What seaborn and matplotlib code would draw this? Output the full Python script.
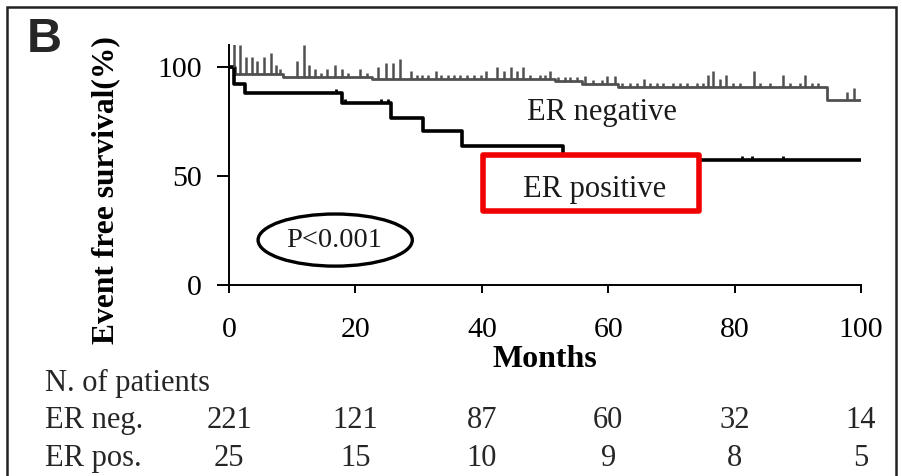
import numpy as np
import pandas as pd
import seaborn as sns
import matplotlib.pyplot as plt
import matplotlib.transforms as mtransforms
from matplotlib.patches import Ellipse, Rectangle

# Kaplan-Meier step values (months, event free survival %)
neg_times = [0, 1.0, 8.6, 22.6, 51.5, 55.8, 61.5, 94.6, 100]
neg_surv = [100, 97.0, 95.3, 94.3, 93.6, 92.3, 90.7, 85.0, 85.0]
pos_times = [0, 0.8, 2.5, 17.8, 25.7, 30.7, 36.8, 52.9, 100]
pos_surv = [100, 92.0, 88.0, 83.5, 76.5, 70.6, 63.8, 57.3, 57.3]

# Censored observations: time and number censored at that time
neg_cens_t = [0.8, 1.7, 2.7, 3.6, 4.5, 5.6, 6.6, 7.5, 8.1, 10.8, 11.8, 12.7, 13.6,
              14.5, 15.5, 16.7, 17.8, 18.8, 20.7, 21.8, 23.6, 24.8, 26.0, 27.0,
              28.8, 29.7, 30.6, 31.5, 32.7, 33.6, 34.7, 35.6, 36.6, 37.7, 38.7,
              39.8, 40.7, 42.4, 43.5, 44.6, 45.5, 46.5, 47.6, 49.2, 50.0, 50.8,
              52.1, 53.2, 54.0, 55.0, 56.3, 57.6, 59.0, 59.8, 61.1, 62.1, 63.4,
              64.5, 65.6, 66.6, 67.7, 68.7, 70.3, 71.4, 72.4, 74.0, 75.0, 75.8,
              76.6, 77.7, 78.7, 79.8, 80.9, 83.0, 84.0, 85.6, 87.7, 88.8, 90.3,
              91.1, 92.2, 93.2, 97.7, 98.8]
neg_cens_n = [8, 7, 4, 4, 3, 4, 5, 2, 1, 4, 8, 3, 2,
              1, 2, 3, 2, 1, 2, 1, 3, 4, 4, 5,
              2, 1, 1, 1, 2, 1, 1, 1, 1, 1, 1,
              1, 2, 3, 2, 3, 2, 3, 1, 1, 1, 2,
              1, 1, 1, 1, 2, 1, 1, 2, 2, 1, 1,
              1, 2, 1, 1, 1, 1, 1, 1, 1, 1, 3,
              4, 2, 3, 1, 1, 4, 1, 1, 3, 1, 1,
              3, 1, 1, 2, 3]
pos_cens_t = [17.0, 18.4, 24.1, 25.1, 81.1, 82.7, 87.7]
pos_cens_n = [1, 1, 1, 1, 1, 1, 1]

# Numbers at risk
risk_months = [0, 20, 40, 60, 80, 100]
risk_neg = [221, 121, 87, 60, 32, 14]
risk_pos = [25, 15, 10, 9, 8, 5]

GRAY = "#505050"

sns.set_theme(style="white")
plt.rcParams["font.family"] = ["Liberation Serif", "DejaVu Serif"]

fig = plt.figure(figsize=(9.03, 4.76), dpi=100)
ax = fig.add_axes([0.2536, 0.4013, 0.700, 0.5038])

df = pd.concat([
    pd.DataFrame({"month": neg_times, "surv": neg_surv, "group": "ER negative"}),
    pd.DataFrame({"month": pos_times, "surv": pos_surv, "group": "ER positive"}),
])

sns.lineplot(data=df[df.group == "ER negative"], x="month", y="surv",
             drawstyle="steps-post", estimator=None, sort=False,
             color=GRAY, lw=2.0, ax=ax, zorder=3)
sns.lineplot(data=df[df.group == "ER positive"], x="month", y="surv",
             drawstyle="steps-post", estimator=None, sort=False,
             color="black", lw=2.6, ax=ax, zorder=3)


def step_value(times, surv, t):
    idx = np.searchsorted(times, t, side="right") - 1
    return np.asarray(surv)[idx]


unit = 1.85  # height of one censor mark, in % units
for times, surv, ct, cn, col, lw in [
    (neg_times, neg_surv, neg_cens_t, neg_cens_n, GRAY, 1.8),
    (pos_times, pos_surv, pos_cens_t, pos_cens_n, "black", 2.0),
]:
    ct = np.asarray(ct)
    base = step_value(times, surv, ct)
    ax.vlines(ct, base, base + np.asarray(cn) * unit, color=col, lw=lw, zorder=3)

ax.set_xlim(0, 100)
ax.set_ylim(0, 110)
ax.set_xticks(risk_months)
ax.set_yticks([0, 50, 100])
for s in ["top", "right"]:
    ax.spines[s].set_visible(False)
for s in ["left", "bottom"]:
    ax.spines[s].set_color("black")
    ax.spines[s].set_linewidth(1.4)
ax.tick_params(axis="y", direction="out", length=8.5, width=1.4, pad=11,
               labelsize=21.5, colors="black", left=True)
ax.tick_params(axis="x", direction="out", length=6, width=1.4, pad=17,
               labelsize=21.5, colors="black", bottom=True)
ax.grid(False)

ax.set_xlabel("Months", fontsize=23, fontweight="bold", color="black")
ax.xaxis.set_label_coords(0.5, -0.25)
ax.set_ylabel("Event free survival(%)", fontsize=22.7, fontweight="bold", color="black")
ax.yaxis.set_label_coords(-0.172, 0.396)

# Curve labels, p-value and highlight box
ax.text(59.0, 78.9, "ER negative", fontsize=22, ha="center", va="center", color="#1a1a1a")
ax.add_patch(Rectangle((40.2, 33.9), 34.2, 25.7, fill=True, facecolor="white",
                       edgecolor="#f00000", lw=4.0, joinstyle="round", zorder=4))
ax.text(57.8, 44.0, "ER positive", fontsize=22, ha="center", va="center",
        color="#1a1a1a", zorder=5)
ax.add_patch(Ellipse((16.8, 20.6), 24.4, 23.9, fill=False, edgecolor="black",
                     lw=2.4, zorder=4))
ax.text(16.6, 20.6, "P<0.001", fontsize=20.5, ha="center", va="center", color="#1a1a1a")

# Numbers-at-risk table
tr = mtransforms.blended_transform_factory(ax.transData, fig.transFigure)
fig.text(0.05, 0.195, "N. of patients", fontsize=22, ha="left", va="center")
fig.text(0.05, 0.1176, "ER neg.", fontsize=22, ha="left", va="center")
fig.text(0.05, 0.0378, "ER pos.", fontsize=22, ha="left", va="center")
for m, n_neg, n_pos in zip(risk_months, risk_neg, risk_pos):
    ax.text(m, 0.1176, str(n_neg), transform=tr, fontsize=22, ha="center",
            va="center", clip_on=False)
    ax.text(m, 0.0378, str(n_pos), transform=tr, fontsize=22, ha="center",
            va="center", clip_on=False)

# Panel letter and frame
fig.text(0.030, 0.918, "B", fontsize=35, fontweight="bold", ha="left", va="center",
         family=["Liberation Sans", "DejaVu Sans"])
fig.add_artist(Rectangle((0.008, -0.02), 0.984, 1.005, transform=fig.transFigure,
                         fill=False, edgecolor="#222222", lw=1.8))

fig.savefig("out.png", dpi=100)
